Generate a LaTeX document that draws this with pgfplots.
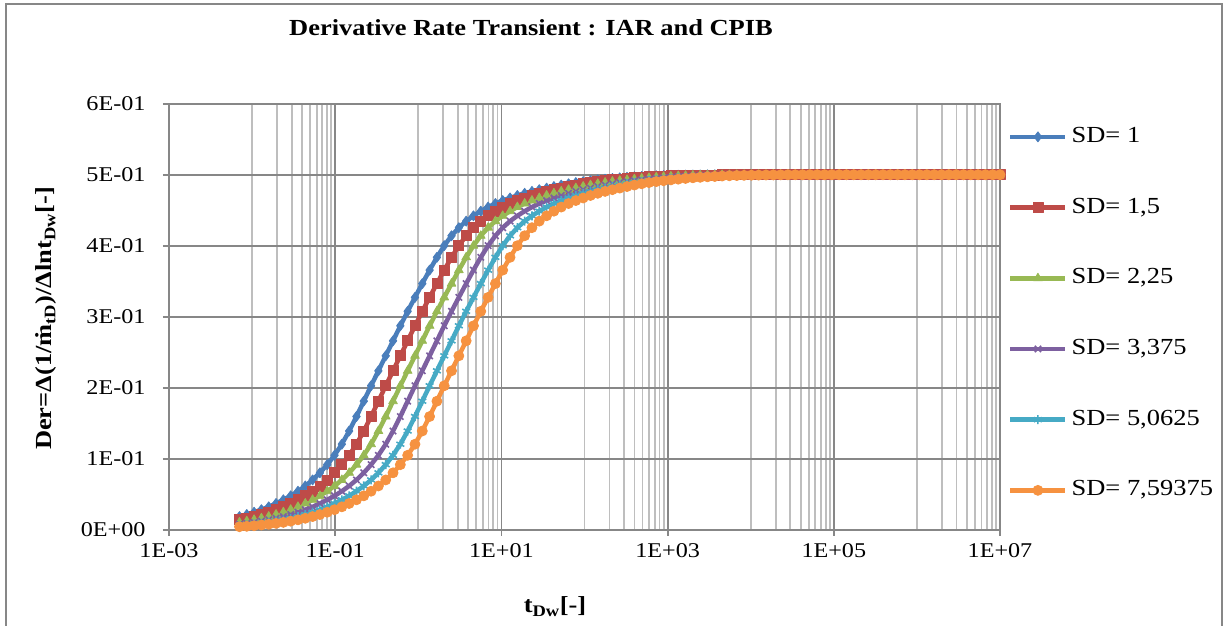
\documentclass[border=0pt]{standalone}
\usepackage{fontspec}
\setmainfont{Liberation Serif}[FakeStretch=1.15]
\usepackage{pgfplots}
\usepackage{pgfplotstable}
\pgfplotsset{compat=1.18}

\definecolor{sdblue}{HTML}{4A7EBB}
\definecolor{sdred}{HTML}{BE4B48}
\definecolor{sdgreen}{HTML}{98B954}
\definecolor{sdpurple}{HTML}{7D60A0}
\definecolor{sdcyan}{HTML}{46AAC5}
\definecolor{sdorange}{HTML}{F69240}
\definecolor{gridmajor}{HTML}{878787}
\definecolor{gridminor}{HTML}{BEBEBE}

% Derivative of the reciprocal rate versus dimensionless time, one column per SD
\pgfplotstableread{
t         sd1    sd2    sd3    sd4    sd5    sd6
7.047e-3  0.0185 0.0139 0.0103 0.0077 0.0056 0.0042
8.629e-3  0.0214 0.0161 0.0120 0.0089 0.0066 0.0048
1.057e-2  0.0246 0.0185 0.0139 0.0103 0.0077 0.0056
1.294e-2  0.0282 0.0214 0.0161 0.0120 0.0089 0.0066
1.585e-2  0.0322 0.0246 0.0185 0.0139 0.0103 0.0077
1.941e-2  0.0369 0.0282 0.0214 0.0161 0.0120 0.0089
2.377e-2  0.0421 0.0322 0.0246 0.0185 0.0139 0.0103
2.911e-2  0.0477 0.0369 0.0282 0.0214 0.0161 0.0120
3.565e-2  0.0542 0.0421 0.0322 0.0246 0.0185 0.0139
4.365e-2  0.0616 0.0477 0.0369 0.0282 0.0214 0.0161
5.346e-2  0.0701 0.0542 0.0421 0.0322 0.0246 0.0185
6.546e-2  0.0801 0.0616 0.0477 0.0369 0.0282 0.0214
8.017e-2  0.0916 0.0701 0.0542 0.0421 0.0322 0.0246
9.817e-2  0.1048 0.0801 0.0616 0.0477 0.0369 0.0282
1.202e-1  0.1204 0.0916 0.0701 0.0542 0.0421 0.0322
1.472e-1  0.1390 0.1048 0.0801 0.0616 0.0477 0.0369
1.803e-1  0.1594 0.1204 0.0916 0.0701 0.0542 0.0421
2.208e-1  0.1810 0.1390 0.1048 0.0801 0.0616 0.0477
2.704e-1  0.2027 0.1594 0.1204 0.0916 0.0701 0.0542
3.311e-1  0.2238 0.1810 0.1390 0.1048 0.0801 0.0616
4.055e-1  0.2449 0.2027 0.1594 0.1204 0.0916 0.0701
4.966e-1  0.2660 0.2238 0.1810 0.1390 0.1048 0.0801
6.081e-1  0.2872 0.2449 0.2027 0.1594 0.1204 0.0916
7.447e-1  0.3076 0.2660 0.2238 0.1810 0.1390 0.1048
9.120e-1  0.3272 0.2872 0.2449 0.2027 0.1594 0.1204
1.117     0.3466 0.3076 0.2660 0.2238 0.1810 0.1390
1.368     0.3656 0.3272 0.2872 0.2449 0.2027 0.1594
1.675     0.3836 0.3466 0.3076 0.2660 0.2238 0.1810
2.051     0.4000 0.3656 0.3272 0.2872 0.2449 0.2027
2.512     0.4140 0.3836 0.3466 0.3076 0.2660 0.2238
3.076     0.4254 0.4000 0.3656 0.3272 0.2872 0.2449
3.767     0.4346 0.4140 0.3836 0.3466 0.3076 0.2660
4.613     0.4421 0.4254 0.4000 0.3656 0.3272 0.2872
5.649     0.4486 0.4346 0.4140 0.3836 0.3466 0.3076
6.918     0.4544 0.4421 0.4254 0.4000 0.3656 0.3272
8.472     0.4594 0.4486 0.4346 0.4140 0.3836 0.3466
10.375    0.4636 0.4544 0.4421 0.4254 0.4000 0.3656
12.71     0.4672 0.4594 0.4486 0.4346 0.4140 0.3836
15.56     0.4707 0.4636 0.4544 0.4421 0.4254 0.4000
19.05     0.4738 0.4672 0.4594 0.4486 0.4346 0.4140
23.33     0.4765 0.4707 0.4636 0.4544 0.4421 0.4254
28.57     0.4789 0.4738 0.4672 0.4594 0.4486 0.4346
34.99     0.4811 0.4765 0.4707 0.4636 0.4544 0.4421
42.85     0.4833 0.4789 0.4738 0.4672 0.4594 0.4486
52.48     0.4854 0.4811 0.4765 0.4707 0.4636 0.4544
64.27     0.4872 0.4833 0.4789 0.4738 0.4672 0.4594
78.70     0.4889 0.4854 0.4811 0.4765 0.4707 0.4636
96.38     0.4903 0.4872 0.4833 0.4789 0.4738 0.4672
118.0     0.4915 0.4889 0.4854 0.4811 0.4765 0.4707
144.5     0.4927 0.4903 0.4872 0.4833 0.4789 0.4738
177.0     0.4937 0.4915 0.4889 0.4854 0.4811 0.4765
216.7     0.4947 0.4927 0.4903 0.4872 0.4833 0.4789
265.5     0.4956 0.4937 0.4915 0.4889 0.4854 0.4811
325.1     0.4963 0.4947 0.4927 0.4903 0.4872 0.4833
398.1     0.4970 0.4956 0.4937 0.4915 0.4889 0.4854
487.5     0.4975 0.4963 0.4947 0.4927 0.4903 0.4872
597.0     0.4981 0.4970 0.4956 0.4937 0.4915 0.4889
731.1     0.4985 0.4975 0.4963 0.4947 0.4927 0.4903
895.4     0.4988 0.4981 0.4970 0.4956 0.4937 0.4915
1096      0.4991 0.4985 0.4975 0.4963 0.4947 0.4927
1343      0.4993 0.4988 0.4981 0.4970 0.4956 0.4937
1644      0.4994 0.4991 0.4985 0.4975 0.4963 0.4947
2014      0.4996 0.4993 0.4988 0.4981 0.4970 0.4956
2466      0.4997 0.4994 0.4991 0.4985 0.4975 0.4963
3020      0.4998 0.4996 0.4993 0.4988 0.4981 0.4970
3698      0.4999 0.4997 0.4994 0.4991 0.4985 0.4975
4529      0.4999 0.4998 0.4996 0.4993 0.4988 0.4981
5546      0.4999 0.4999 0.4997 0.4994 0.4991 0.4985
6792      0.5    0.4999 0.4998 0.4996 0.4993 0.4988
8318      0.5    0.4999 0.4999 0.4997 0.4994 0.4991
1.019e4   0.5    0.5    0.4999 0.4998 0.4996 0.4993
1.247e4   0.5    0.5    0.4999 0.4999 0.4997 0.4994
1.528e4   0.5    0.5    0.5    0.4999 0.4998 0.4996
1.871e4   0.5    0.5    0.5    0.4999 0.4999 0.4997
2.291e4   0.5    0.5    0.5    0.5    0.4999 0.4998
2.805e4   0.5    0.5    0.5    0.5    0.4999 0.4999
3.436e4   0.5    0.5    0.5    0.5    0.5    0.4999
4.207e4   0.5    0.5    0.5    0.5    0.5    0.4999
5.152e4   0.5    0.5    0.5    0.5    0.5    0.5
6.310e4   0.5    0.5    0.5    0.5    0.5    0.5
7.727e4   0.5    0.5    0.5    0.5    0.5    0.5
9.462e4   0.5    0.5    0.5    0.5    0.5    0.5
1.159e5   0.5    0.5    0.5    0.5    0.5    0.5
1.419e5   0.5    0.5    0.5    0.5    0.5    0.5
1.738e5   0.5    0.5    0.5    0.5    0.5    0.5
2.128e5   0.5    0.5    0.5    0.5    0.5    0.5
2.606e5   0.5    0.5    0.5    0.5    0.5    0.5
3.192e5   0.5    0.5    0.5    0.5    0.5    0.5
3.908e5   0.5    0.5    0.5    0.5    0.5    0.5
4.786e5   0.5    0.5    0.5    0.5    0.5    0.5
5.861e5   0.5    0.5    0.5    0.5    0.5    0.5
7.178e5   0.5    0.5    0.5    0.5    0.5    0.5
8.790e5   0.5    0.5    0.5    0.5    0.5    0.5
1.076e6   0.5    0.5    0.5    0.5    0.5    0.5
1.318e6   0.5    0.5    0.5    0.5    0.5    0.5
1.614e6   0.5    0.5    0.5    0.5    0.5    0.5
1.977e6   0.5    0.5    0.5    0.5    0.5    0.5
2.421e6   0.5    0.5    0.5    0.5    0.5    0.5
2.965e6   0.5    0.5    0.5    0.5    0.5    0.5
3.631e6   0.5    0.5    0.5    0.5    0.5    0.5
4.446e6   0.5    0.5    0.5    0.5    0.5    0.5
5.445e6   0.5    0.5    0.5    0.5    0.5    0.5
6.668e6   0.5    0.5    0.5    0.5    0.5    0.5
8.166e6   0.5    0.5    0.5    0.5    0.5    0.5
1.000e7   0.5    0.5    0.5    0.5    0.5    0.5
}\dertable

\begin{document}
\begin{tikzpicture}[x=1pt,y=1pt]
\path[use as bounding box] (0,0) rectangle (1227,626);
\fill[white] (0,0) rectangle (1227,626);
% chart frame
\draw[gridmajor, line width=1.5pt] (6,-5) -- (6,622) -- (1222,622) -- (1222,-5);
\node[font=\bfseries\fontsize{23}{27}\selectfont] at (531,598) {Derivative Rate Transient : IAR and CPIB};

\begin{axis}[
  at={(169pt,96.3pt)}, anchor=south west,
  scale only axis, width=831pt, height=426pt,
  xmode=log, xmin=1e-3, xmax=1e7, ymin=0, ymax=0.6,
  xtick={1e-3,1e-1,1e1,1e3,1e5,1e7},
  xticklabels={1E-03,1E-01,1E+01,1E+03,1E+05,1E+07},
  minor xtick={0.01,0.02,0.03,0.04,0.05,0.06,0.07,0.08,0.09,
    1,2,3,4,5,6,7,8,9,100,200,300,400,500,600,700,800,900,
    10000,20000,30000,40000,50000,60000,70000,80000,90000,
    1000000,2000000,3000000,4000000,5000000,6000000,7000000,8000000,9000000},
  ytick={0,0.1,0.2,0.3,0.4,0.5,0.6},
  yticklabels={0E+00,1E-01,2E-01,3E-01,4E-01,5E-01,6E-01},
  grid=both,
  major grid style={gridmajor, line width=1.8pt},
  minor grid style={gridminor, line width=1.8pt},
  axis line style={gridmajor, line width=1.8pt},
  tick style={gridmajor, line width=1.8pt},
  tick align=outside, major tick length=6pt, minor tick length=0pt,
  xtick pos=bottom, ytick pos=left,
  ticklabel style={font=\fontsize{21}{25}\selectfont},
  xticklabel style={yshift=-4pt},
  yticklabel style={xshift=-14pt},
  xlabel={\textbf{t\textsubscript{Dw}[-]}},
  xlabel style={at={(axis description cs:0.4645,-0.181)}, anchor=center,
    font=\fontsize{23}{27}\selectfont},
  ylabel={\textbf{Der=Δ(1/ṁ\textsubscript{tD})/Δlnt\textsubscript{Dw}[-]}},
  ylabel style={at={(axis description cs:-0.148,0.496)}, anchor=center,
    rotate=0, font=\fontsize{23}{27}\selectfont},
  every axis plot/.append style={line width=4.5pt, line join=round,
    mark options={solid, line width=0.8pt}},
  legend image code/.code={\draw[mark repeat=2,mark phase=2,#1]
    plot coordinates {(0pt,0pt) (27.5pt,0pt) (55pt,0pt)};},
  legend style={at={(axis description cs:1.0096,0.952)}, anchor=north west,
    draw=none, fill=none, inner sep=0pt, column sep=2pt, row sep=45.7pt,
    font=\fontsize{23}{27}\selectfont,
    nodes={text height=16pt, text depth=5pt, inner sep=2pt}},
  legend cell align=left,
]
\addplot[sdblue, mark=diamond*, mark size=5pt] table[x=t, y=sd1] {\dertable};
\addlegendentry{SD= 1}
\addplot[sdred, mark=square*, mark size=5pt] table[x=t, y=sd2] {\dertable};
\addlegendentry{SD= 1,5}
\addplot[sdgreen, mark=triangle*, mark size=5pt] table[x=t, y=sd3] {\dertable};
\addlegendentry{SD= 2,25}
\addplot[sdpurple, mark=x, mark size=4.5pt, mark options={line width=1.6pt}] table[x=t, y=sd4] {\dertable};
\addlegendentry{SD= 3,375}
\addplot[sdcyan, mark=asterisk, mark size=4.5pt, mark options={line width=1.6pt}] table[x=t, y=sd5] {\dertable};
\addlegendentry{SD= 5,0625}
\addplot[sdorange, mark=*, mark size=5pt] table[x=t, y=sd6] {\dertable};
\addlegendentry{SD= 7,59375}
\end{axis}
\end{tikzpicture}
\end{document}
